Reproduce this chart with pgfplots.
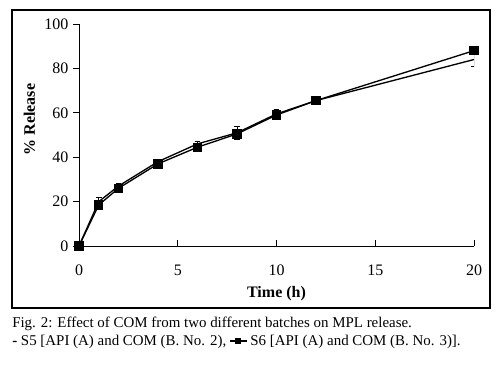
\documentclass[border=0pt]{standalone}
\usepackage{fontspec}
\setmainfont{Liberation Serif}
\usepackage{pgfplots}
\pgfplotsset{compat=1.18}
\begin{document}
\begin{tikzpicture}
\path[use as bounding box] (0pt,0pt) rectangle (375pt,273.75pt);
\draw[line width=0.9pt] (9pt,42.75pt) rectangle (367.5pt,266.25pt);
\begin{axis}[
  at={(59.25pt,89.25pt)}, anchor=south west,
  scale only axis, width=296.25pt, height=166.5pt,
  xmin=0, xmax=20, ymin=0, ymax=100,
  axis lines=left, axis line style={-, line width=0.7pt},
  xtick={0,5,10,15,20}, ytick={0,20,40,60,80,100},
  tick align=outside, major tick length=4.5pt,
  tick style={black, line width=0.7pt},
  xtick style={yshift=4.5pt},
  /pgf/number format/assume math mode=true,
  tick label style={font=\fontsize{12}{14}\selectfont},
  xticklabel style={yshift=-6pt},
  xlabel={\textbf{Time (h)}}, ylabel={\textbf{\% Release}},
  label style={font=\fontsize{12}{14}\selectfont},
  xlabel style={yshift=-1pt},
  ylabel style={at={(ticklabel cs:0.57)}, yshift=0pt},
]
\addplot[black, line width=1pt, mark=none,
  error bars/.cd, y dir=both, y explicit,
  error bar style={line width=0.7pt},
  error mark options={rotate=90, mark size=2.2pt, line width=0.7pt}]
  coordinates {
  (0,0) +- (0,0)
  (1,20) +- (0,2)
  (2,27) +- (0,1)
  (4,38) +- (0,1)
  (6,46) +- (0,1)
  (8,51) +- (0,3)
  (10,59.5) +- (0,2)
  (12,65.5) +- (0,1.5)
  (20,84) +- (0,3)
};
\addplot[black, line width=1pt, mark=square*, mark size=3pt,
  error bars/.cd, y dir=both, y explicit,
  error bar style={line width=0.7pt},
  error mark options={rotate=90, mark size=2.2pt, line width=0.7pt}]
  coordinates {
  (0,0) +- (0,0)
  (1,18.5) +- (0,1.5)
  (2,26) +- (0,1)
  (4,37) +- (0,1)
  (6,44.5) +- (0,1)
  (8,50.5) +- (0,2)
  (10,59) +- (0,1.5)
  (12,65.5) +- (0,1)
  (20,88) +- (0,1)
};
\end{axis}
\node[anchor=base west, inner sep=0pt, font=\fontsize{11.2}{13}\selectfont] at (9pt,28pt)
  {Fig. 2: Effect of COM from two different batches on MPL release.};
\node[anchor=base west, inner sep=0pt, font=\fontsize{11.2}{13}\selectfont] at (9pt,14.5pt)
  {\textbf{-} S5 [API (A) and COM (B. No. 2), \rule[0.6ex]{4pt}{0.8pt}\rule[0.3ex]{4.5pt}{4.5pt}\rule[0.6ex]{4pt}{0.8pt} S6 [API (A) and COM (B. No. 3)].};
\end{tikzpicture}
\end{document}
